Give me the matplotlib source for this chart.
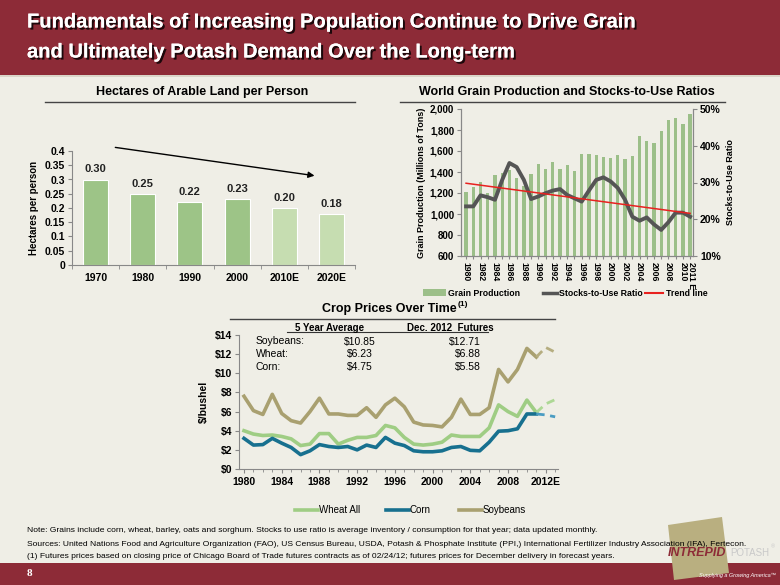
import numpy as np
import matplotlib
matplotlib.use('Agg')
import matplotlib.pyplot as plt
import matplotlib.patheffects as pe
import matplotlib.transforms as mtransforms
from matplotlib.patches import Rectangle, Polygon
from matplotlib.ticker import FuncFormatter

plt.rcParams['font.family'] = ['Liberation Sans', 'DejaVu Sans']

# --- data: arable land ---
land_years = ['1970', '1980', '1990', '2000', '2010E', '2020E']
land_ha = [0.30, 0.25, 0.22, 0.23, 0.20, 0.18]

# --- data: world grain production / stocks-to-use ---
grain_years = list(range(1980, 2012))
grain_prod = [1210, 1260, 1305, 1200, 1375, 1390, 1415, 1345, 1270, 1385,
              1480, 1425, 1500, 1425, 1470, 1410, 1575, 1575, 1565, 1545,
              1530, 1560, 1525, 1555, 1740, 1695, 1680, 1795, 1900, 1915,
              1860, 1955]
stocks_ratio = [23.5, 23.5, 26.5, 26.0, 25.3, 30.7, 35.3, 34.2, 30.7, 25.5,
                26.2, 27.1, 27.8, 28.2, 26.6, 25.7, 24.8, 27.8, 30.7, 31.4,
                30.3, 28.5, 25.3, 20.7, 19.6, 20.5, 18.6, 17.1, 19.2, 21.8,
                21.8, 20.7]
trend_years = [1980, 2011]
trend_vals = [29.8, 21.6]

# --- data: crop prices ($/bushel) ---
price_years = list(range(1980, 2012))
wheat = [4.0, 3.65, 3.5, 3.55, 3.4, 3.15, 2.45, 2.6, 3.7, 3.7,
         2.6, 3.0, 3.3, 3.3, 3.5, 4.55, 4.3, 3.3, 2.6, 2.5,
         2.6, 2.8, 3.55, 3.4, 3.4, 3.4, 4.3, 6.7, 6.0, 5.5,
         7.2, 5.9]
corn = [3.2, 2.5, 2.55, 3.2, 2.7, 2.25, 1.5, 1.9, 2.55, 2.35,
        2.25, 2.35, 2.0, 2.5, 2.25, 3.3, 2.7, 2.45, 1.9, 1.8,
        1.8, 1.9, 2.25, 2.35, 1.95, 1.9, 2.8, 3.95, 4.0, 4.2,
        5.75, 5.75]
soy = [7.6, 6.1, 5.7, 7.8, 5.8, 5.05, 4.8, 6.0, 7.4, 5.75,
       5.75, 5.6, 5.6, 6.4, 5.4, 6.7, 7.4, 6.5, 4.9, 4.6,
       4.55, 4.4, 5.4, 7.3, 5.7, 5.7, 6.4, 10.4, 9.1, 10.4,
       12.6, 11.7]
fut_years = [2011, 2012, 2013]
wheat_fut = [5.9, 6.8, 7.25]
corn_fut = [5.75, 5.65, 5.45]
soy_fut = [11.7, 12.7, 12.2]

table_rows = ['Soybeans:', 'Wheat:', 'Corn:']
avg_5yr = ['$10.85', '$6.23', '$4.75']
dec_2012 = ['$12.71', '$6.88', '$5.58']

MAROON = '#8D2B37'
BG = '#EFEEE6'
W, H = 780, 585

fig = plt.figure(figsize=(7.8, 5.85), dpi=100)
fig.patch.set_facecolor(BG)


def px_axes(x0, y0, x1, y1):
    return fig.add_axes([x0 / W, 1 - y1 / H, (x1 - x0) / W, (y1 - y0) / H])


# full-figure layer in pixel coordinates for the slide decoration
deco = fig.add_axes([0, 0, 1, 1], zorder=0)
deco.set_xlim(0, W)
deco.set_ylim(H, 0)
deco.axis('off')
deco.patch.set_alpha(0)

deco.add_patch(Rectangle((0, 0), W, 75, color=MAROON, lw=0))
deco.add_patch(Rectangle((0, 75), W, 2, color='#D9D5C8', lw=0))
deco.add_patch(Rectangle((0, 563), W, 22, color=MAROON, lw=0))

shadow = [pe.withSimplePatchShadow(offset=(1.5, -1.5), shadow_rgbFace='black', alpha=0.8), pe.Normal()]
for y, line in [(22, 'Fundamentals of Increasing Population Continue to Drive Grain'),
                (52, 'and Ultimately Potash Demand Over the Long-term')]:
    deco.text(27, y, line, color='white', fontsize=14.5, fontweight='bold',
              va='center', ha='left', path_effects=shadow)

# section titles + rules
deco.text(202, 92, 'Hectares of Arable Land per Person', fontsize=9, fontweight='bold', ha='center', va='center')
deco.plot([45, 355], [101.5, 101.5], color='#444444', lw=1)
deco.text(567, 92, 'World Grain Production and Stocks-to-Use Ratios', fontsize=9, fontweight='bold', ha='center', va='center')
deco.plot([400, 725], [101.5, 101.5], color='#444444', lw=1)
deco.text(457, 309, 'Crop Prices Over Time', fontsize=9, fontweight='bold', ha='right', va='center')
deco.text(458, 305, '(1)', fontsize=6, fontweight='bold', ha='left', va='center')
deco.plot([230, 555], [319, 319], color='#444444', lw=1)

# ---------------- chart 1: arable land ----------------
ax1 = px_axes(72, 151, 355, 265)
ax1.patch.set_alpha(0)
x1 = np.arange(len(land_years))
bar_cols = ['#9DC487'] * 4 + ['#C6DDB1'] * 2
ax1.bar(x1, land_ha, width=0.53, color=bar_cols, edgecolor='white', linewidth=0.8)
for xi, v in zip(x1, land_ha):
    ax1.text(xi, v + 0.018, f'{v:.2f}', ha='center', va='bottom', fontsize=8, fontweight='bold', color='#222222')
ax1.set_xlim(-0.5, 5.5)
ax1.set_ylim(0, 0.4)
ax1.set_yticks(np.arange(0, 0.401, 0.05))
ax1.yaxis.set_major_formatter(FuncFormatter(lambda v, p: f'{v:g}'))
ax1.set_xticks(x1)
ax1.set_xticklabels(land_years)
ax1.set_xticks(np.arange(-0.5, 6, 1), minor=True)
ax1.tick_params(axis='x', which='major', length=0, pad=6)
ax1.tick_params(axis='x', which='minor', length=3, color='#888888')
ax1.tick_params(axis='y', length=3, color='#888888', pad=2)
for lab in ax1.get_xticklabels() + ax1.get_yticklabels():
    lab.set_fontweight('bold')
    lab.set_fontsize(7.5)
for s in ['top', 'right']:
    ax1.spines[s].set_visible(False)
for s in ['left', 'bottom']:
    ax1.spines[s].set_color('#888888')
ax1.set_ylabel('Hectares per person', fontsize=7, fontweight='bold', labelpad=4)
ax1.annotate('', xy=(4.7, 0.312), xytext=(0.36, 0.414),
             arrowprops=dict(arrowstyle='-|>', color='black', lw=1, mutation_scale=9),
             annotation_clip=False)

# ---------------- chart 2: grain ----------------
ax2 = px_axes(461, 109, 693, 256)
ax2.patch.set_alpha(0)
x2 = np.arange(len(grain_years))
ax2.bar(x2, grain_prod, width=0.45, color='#9CBF89', zorder=1)
ax2.set_xlim(-0.7, 31.4)
ax2.set_ylim(600, 2000)
ax2.set_yticks(range(600, 2001, 200))
ax2.yaxis.set_major_formatter(FuncFormatter(lambda v, p: f'{int(v):,}'))
ax2.set_xticks(x2)
ax2.set_xticklabels([str(y) if (y - 1980) % 2 == 0 else ('2011 E' if y == 2011 else '') for y in grain_years],
                    rotation=270)
ax2.tick_params(axis='x', length=2.5, color='#888888', pad=2)
ax2.tick_params(axis='y', length=3, color='#888888', pad=2)
for lab in ax2.get_xticklabels():
    lab.set_fontweight('bold')
    lab.set_fontsize(6.2)
# nudge the last label a touch right so it clears "2010"
last = ax2.get_xticklabels()[-1]
last.set_transform(last.get_transform() + mtransforms.ScaledTranslation(1.5 / 100, 0, fig.dpi_scale_trans))
for lab in ax2.get_yticklabels():
    lab.set_fontweight('bold')
    lab.set_fontsize(7)
ax2.spines['top'].set_visible(False)
for s in ['left', 'bottom', 'right']:
    ax2.spines[s].set_color('#888888')
ax2.set_ylabel('Grain Production (Millions of Tons)', fontsize=6.5, fontweight='bold', labelpad=3)

ax2r = ax2.twinx()
ax2r.set_ylim(10, 50)
ax2r.set_yticks(range(10, 51, 10))
ax2r.yaxis.set_major_formatter(FuncFormatter(lambda v, p: f'{int(v)}%'))
ax2r.plot(x2, stocks_ratio, color='#555555', lw=2.8, solid_joinstyle='round', zorder=3)
ax2r.plot([t - 1980 for t in trend_years], trend_vals, color='#E8211F', lw=1.1, zorder=4)
ax2r.tick_params(axis='y', length=3, color='#888888', pad=2)
for lab in ax2r.get_yticklabels():
    lab.set_fontweight('bold')
    lab.set_fontsize(7.5)
ax2r.spines['top'].set_visible(False)
for s in ['left', 'bottom', 'right']:
    ax2r.spines[s].set_color('#888888')
ax2r.set_ylabel('Stocks-to-Use Ratio', fontsize=6.5, fontweight='bold', labelpad=4)

# legend for chart 2
deco.add_patch(Rectangle((423, 289), 23, 7, color='#9CBF89', lw=0))
deco.text(448, 293, 'Grain Production', fontsize=6.3, fontweight='bold', va='center')
deco.plot([543, 557], [293, 293], color='#555555', lw=2.5)
deco.text(559, 293, 'Stocks-to-Use Ratio', fontsize=6.3, fontweight='bold', va='center')
deco.plot([645, 663], [293, 293], color='#E8211F', lw=1.5)
deco.text(666, 293, 'Trend line', fontsize=6.3, fontweight='bold', va='center')

# ---------------- chart 3: crop prices ----------------
ax3 = px_axes(239, 335, 558, 469)
ax3.patch.set_alpha(0)
WHEAT_C, CORN_C, SOY_C = '#9FCD84', '#17708F', '#A9A070'
ax3.plot(price_years, soy, color=SOY_C, lw=2.6, solid_joinstyle='round')
ax3.plot(price_years, wheat, color=WHEAT_C, lw=2.6, solid_joinstyle='round')
ax3.plot(price_years, corn, color=CORN_C, lw=2.6, solid_joinstyle='round')
ax3.plot(fut_years, soy_fut, color='#B5AD80', lw=2.0, ls=(0, (3, 2)))
ax3.plot(fut_years, wheat_fut, color='#ADD895', lw=2.0, ls=(0, (3, 2)))
ax3.plot(fut_years, corn_fut, color='#4A9CC2', lw=2.0, ls=(0, (3, 2)))
ax3.set_xlim(1979.47, 2013.3)
ax3.set_ylim(0, 14)
ax3.set_yticks(range(0, 15, 2))
ax3.yaxis.set_major_formatter(FuncFormatter(lambda v, p: f'${int(v)}'))
ax3.set_xticks(range(1980, 2013, 4))
ax3.set_xticklabels([str(y) if y != 2012 else '2012E' for y in range(1980, 2013, 4)])
ax3.set_xticks(range(1980, 2014), minor=True)
ax3.tick_params(axis='x', which='major', length=3, color='#888888', pad=3)
ax3.tick_params(axis='x', which='minor', length=2, color='#888888')
ax3.tick_params(axis='y', length=3, color='#888888', pad=2)
for lab in ax3.get_xticklabels() + ax3.get_yticklabels():
    lab.set_fontweight('bold')
    lab.set_fontsize(7.5)
for s in ['top', 'right']:
    ax3.spines[s].set_visible(False)
for s in ['left', 'bottom']:
    ax3.spines[s].set_color('#888888')
ax3.set_ylabel('$/bushel', fontsize=7.5, fontweight='bold', labelpad=4)

# price table
deco.text(330, 328, '5 Year Average', fontsize=7, fontweight='bold', ha='center', va='center')
deco.text(450, 328, 'Dec. 2012  Futures', fontsize=7, fontweight='bold', ha='center', va='center')
deco.plot([287, 488], [332, 332], color='#333333', lw=0.8)
for i, (name, a, f) in enumerate(zip(table_rows, avg_5yr, dec_2012)):
    yy = 341.5 + i * 12.7
    deco.text(256, yy, name, fontsize=7.5, va='center')
    deco.text(360, yy, a, fontsize=7.5, va='center', ha='center')
    deco.text(481, yy, f, fontsize=7.5, va='center', ha='right')

# legend for chart 3
for x0, col, name in [(295, WHEAT_C, 'Wheat All'), (386, CORN_C, 'Corn'), (459, SOY_C, 'Soybeans')]:
    deco.plot([x0, x0 + 23], [510, 510], color=col, lw=2.6)
    deco.text(x0 + 24, 510, name, fontsize=7, va='center')

# footnotes
notes = [
    'Note: Grains include corn, wheat, barley, oats and sorghum. Stocks to use ratio is average inventory / consumption for that year; data updated monthly.',
    'Sources: United Nations Food and Agriculture Organization (FAO), US Census Bureau, USDA, Potash & Phosphate Institute (PPI,) International Fertilizer Industry Association (IFA), Fertecon.',
    '(1) Futures prices based on closing price of Chicago Board of Trade futures contracts as of 02/24/12; futures prices for December delivery in forecast years.',
]

# logo
deco.add_patch(Polygon([(668, 525), (722, 517), (729, 573), (674, 580)], closed=True,
                       color='#B9AF80', lw=0, zorder=2))
for i, t in enumerate(notes):
    deco.text(27, 531 + i * 13, t, fontsize=6.1, va='center', zorder=3)
deco.text(668, 553, 'INTREPID', fontsize=9, fontweight='bold', style='italic', color=MAROON,
          va='center', zorder=3)
deco.text(730, 553, 'POTASH', fontsize=7, color='#C9C9C9', va='center', zorder=3)
deco.text(771, 547, '®', fontsize=4, color='#C9C9C9', va='center', zorder=3)
deco.text(776, 575, 'Supplying a Growing America™', fontsize=4, style='italic', color='white',
          va='center', ha='right', zorder=3)
deco.text(27, 573, '8', fontsize=8, fontweight='bold', color='white', family=['Liberation Serif'],
          va='center')

fig.savefig('out.png', dpi=100, facecolor=fig.get_facecolor())
